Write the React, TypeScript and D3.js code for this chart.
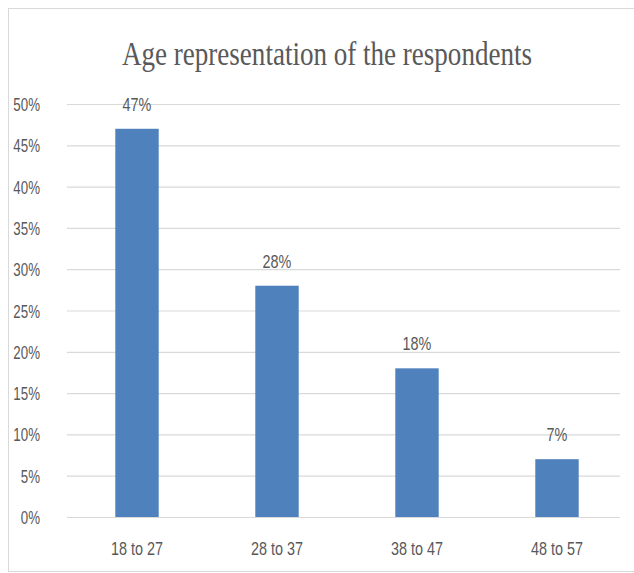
import React, { useEffect, useRef } from 'react';
import * as d3 from 'd3';

const ageGroups = ['18 to 27', '28 to 37', '38 to 47', '48 to 57'];
const shares = [47, 28, 18, 7];
const yTicks = [0, 5, 10, 15, 20, 25, 30, 35, 40, 45, 50];
const chartTitle = 'Age representation of the respondents';

const App: React.FC = () => {
  const svgRef = useRef<SVGSVGElement>(null);

  useEffect(() => {
    if (!svgRef.current) return;
    const svg = d3.select(svgRef.current);
    svg.selectAll('*').remove();

    const width = 634;
    const height = 573;
    const left = 67;
    const right = 627;
    const top = 104;
    const bottom = 517;
    const textColor = '#595959';
    const sans = '"Liberation Sans", Arial, sans-serif';

    svg.attr('width', width).attr('height', height);

    svg
      .append('rect')
      .attr('x', 8.5)
      .attr('y', 8.5)
      .attr('width', 640)
      .attr('height', 563)
      .attr('fill', '#fff')
      .attr('stroke', '#d9d9d9');

    const x = d3.scaleBand<string>().domain(ageGroups).range([left, right]).paddingInner(0.69).paddingOuter(0.345);
    const y = d3.scaleLinear().domain([0, 50]).range([bottom, top]);

    // gridlines + left labels
    const yAxis = svg
      .append('g')
      .attr('transform', `translate(${left},0)`)
      .call(
        d3
          .axisLeft(y)
          .tickValues(yTicks)
          .tickSize(-(right - left - 7))
          .tickPadding(0)
          .tickFormat((d) => `${d}%`)
      );
    yAxis.select('.domain').remove();
    yAxis.selectAll('line').attr('stroke', '#d9d9d9').attr('stroke-width', 1.2);
    yAxis
      .selectAll<SVGTextElement, number>('text')
      .attr('x', null)
      .attr('dy', null)
      .attr('fill', textColor)
      .attr('font-family', sans)
      .attr('font-size', 18)
      .attr('text-anchor', 'end')
      .attr('transform', 'translate(-27,6.5) scale(0.74,1)');

    // bars
    svg
      .append('g')
      .selectAll('rect')
      .data(shares)
      .join('rect')
      .attr('x', (_, i) => x(ageGroups[i]) as number)
      .attr('y', (d) => y(d))
      .attr('width', x.bandwidth())
      .attr('height', (d) => y(0) - y(d))
      .attr('fill', '#4f81bd');

    // value labels
    svg
      .append('g')
      .selectAll('text')
      .data(shares)
      .join('text')
      .attr('transform', (d, i) => `translate(${(x(ageGroups[i]) as number) + x.bandwidth() / 2},${y(d) - 18}) scale(0.8,1)`)
      .attr('text-anchor', 'middle')
      .attr('fill', textColor)
      .attr('font-family', sans)
      .attr('font-size', 18)
      .text((d) => `${d}%`);

    // category labels
    const xAxis = svg
      .append('g')
      .attr('transform', `translate(0,${bottom})`)
      .call(d3.axisBottom(x).tickSize(0).tickPadding(0));
    xAxis.select('.domain').remove();
    xAxis
      .selectAll<SVGTextElement, string>('text')
      .attr('y', null)
      .attr('dy', null)
      .attr('fill', textColor)
      .attr('font-family', sans)
      .attr('font-size', 18)
      .attr('transform', 'translate(0,38) scale(0.8,1)');

    // title
    svg
      .append('text')
      .attr('x', 327)
      .attr('y', 65)
      .attr('text-anchor', 'middle')
      .attr('fill', textColor)
      .attr('font-family', '"Liberation Serif", "DejaVu Serif", serif')
      .attr('font-size', 33)
      .attr('textLength', 410)
      .attr('lengthAdjust', 'spacingAndGlyphs')
      .text(chartTitle);
  }, []);

  return <svg ref={svgRef} style={{ position: 'absolute', left: 0, top: 0, display: 'block' }}></svg>;
};

export default App;
